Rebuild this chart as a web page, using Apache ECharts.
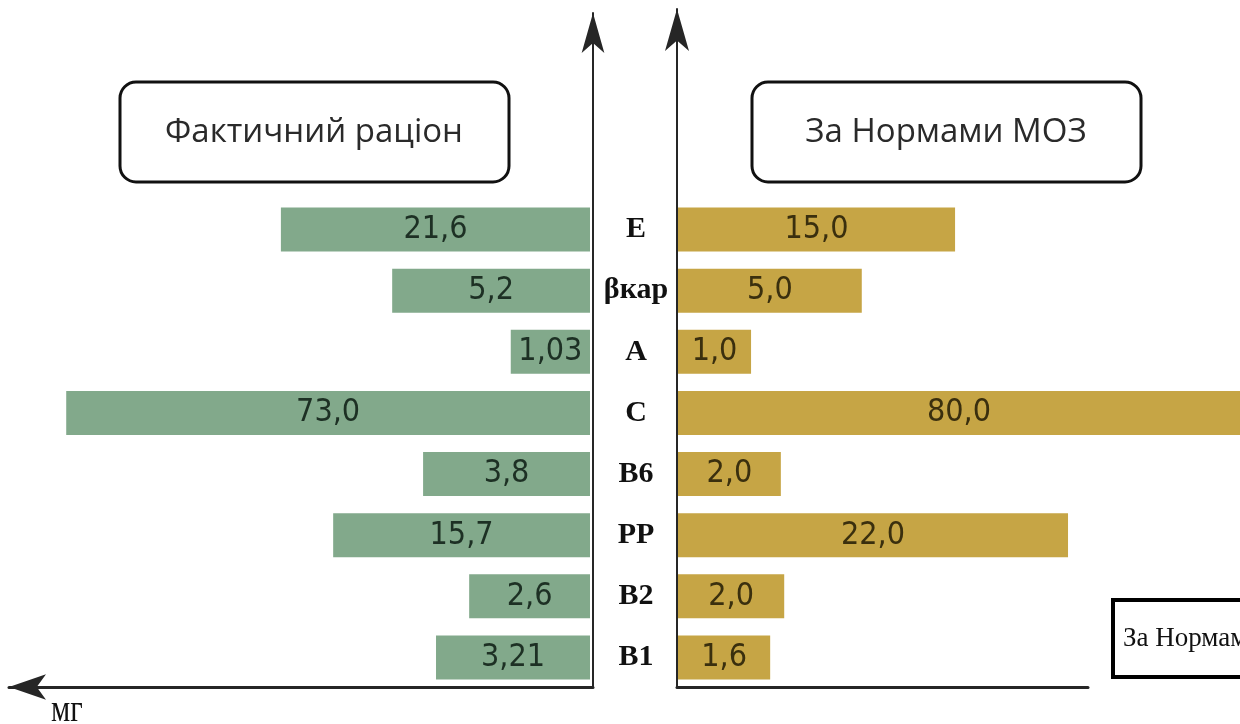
<!DOCTYPE html>
<html>
<head>
<meta charset="utf-8">
<script src="https://cdn.jsdelivr.net/npm/echarts@6/dist/echarts.min.js"></script>
<style>
html,body{margin:0;padding:0;background:#fff;}
#chart{width:1240px;height:724px;}
</style>
</head>
<body>
<div id="chart"></div>
<script>
// ---------------- data ----------------
const vitamins = ['E', 'βкар', 'A', 'C', 'B6', 'PP', 'B2', 'B1'];
const factValues = [21.6, 5.2, 1.03, 73.0, 3.8, 15.7, 2.6, 3.21];   // Фактичний раціон, мг
const normValues = [15.0, 5.0, 1.0, 80.0, 2.0, 22.0, 2.0, 1.6];     // За Нормами МОЗ, мг
// bar extents as drawn in the source figure (its bars are not to scale), relative units 0–100
const factBarExtent = [55.0, 35.2, 14.1, 93.2, 29.7, 45.7, 21.5, 27.4];
const normBarExtent = [49.3, 32.7, 13.0, 100.0, 18.3, 69.4, 18.9, 16.4];
const seriesNames = ['Фактичний раціон', 'За Нормами МОЗ'];
const unitLabel = 'мг';

// ---------------- helpers ----------------
function fmt(v) {
  const d = Math.abs(Math.round(v * 10) - v * 10) < 1e-9 ? 1 : 2;
  return v.toFixed(d).replace('.', ',');
}
function measure(font) {
  const c = document.createElement('canvas').getContext('2d');
  c.font = font;
  return c.measureText('21,6 Фактичний').width;
}
function hasFont(name) {
  return measure("40px monospace") !== measure("40px '" + name + "', monospace");
}
let labelFamily = 'Open Sans';
for (const f of ['Liberation Sans Narrow', 'Noto Sans Condensed', 'DejaVu Sans Condensed']) {
  if (hasFont(f)) { labelFamily = f; break; }
}
const mc = document.createElement('canvas').getContext('2d');
mc.font = "40px '" + labelFamily + "'";
let labelSize = Math.round(40 * 65 / mc.measureText('21,6').width);
labelSize = Math.max(26, Math.min(38, labelSize));

const chart = echarts.init(document.getElementById('chart'), null, { renderer: 'canvas' });

const lineColor = '#262626';
const hiddenValueAxis = (grid, extra) => Object.assign({
  gridIndex: grid, type: 'value', min: 0, max: 100,
  axisLine: { show: false }, axisTick: { show: false },
  axisLabel: { show: false }, splitLine: { show: false }
}, extra || {});
const decoAxis = (grid, extra) => Object.assign({
  gridIndex: grid, type: 'value', min: 0, max: 1, z: 5,
  axisTick: { show: false }, axisLabel: { show: false }, splitLine: { show: false }
}, extra || {});

const option = {
  backgroundColor: '#ffffff',
  animation: false,
  grid: [
    { left: 28, width: 562, top: 199, height: 489 },   // left bars
    { left: 678, width: 562, top: 199, height: 489 },  // right bars
    { left: 9, width: 584, top: 13, height: 674 },     // left axes (lines)
    { left: 677, width: 411, top: 9, height: 678 }     // right axes (lines)
  ],
  xAxis: [
    hiddenValueAxis(0, { inverse: true }),
    hiddenValueAxis(1),
    decoAxis(2, {
      inverse: true,
      axisLine: { show: true, onZero: false, symbol: ['arrow', 'none'], symbolSize: [19, 37],
        lineStyle: { color: lineColor, width: 3 } }
    }),
    decoAxis(3, {
      axisLine: { show: true, onZero: false, lineStyle: { color: lineColor, width: 3 } }
    })
  ],
  yAxis: [
    {
      gridIndex: 0, type: 'category', data: vitamins, inverse: true, position: 'right',
      axisLine: { show: false }, axisTick: { show: false },
      axisLabel: {
        show: true, margin: 46, align: 'center',
        fontFamily: "'Liberation Serif', 'DejaVu Serif', serif", fontWeight: 'bold',
        fontSize: 30, color: '#111'
      }
    },
    {
      gridIndex: 1, type: 'category', data: vitamins, inverse: true,
      axisLine: { show: false }, axisTick: { show: false }, axisLabel: { show: false }
    },
    decoAxis(2, {
      position: 'right',
      axisLine: { show: true, onZero: false, symbol: ['none', 'arrow'], symbolSize: [17, 40],
        lineStyle: { color: lineColor, width: 2 } }
    }),
    decoAxis(3, {
      position: 'left',
      axisLine: { show: true, onZero: false, symbol: ['none', 'arrow'], symbolSize: [18, 42],
        lineStyle: { color: lineColor, width: 2 } }
    })
  ],
  series: [
    {
      name: seriesNames[0], type: 'bar', xAxisIndex: 0, yAxisIndex: 0,
      data: factBarExtent, barWidth: 44,
      itemStyle: { color: '#82a98b' },
      label: {
        show: true, position: 'inside',
        formatter: p => fmt(factValues[p.dataIndex]),
        fontFamily: labelFamily, fontSize: labelSize, color: '#1d3024'
      }
    },
    {
      name: seriesNames[1], type: 'bar', xAxisIndex: 1, yAxisIndex: 1,
      data: normBarExtent, barWidth: 44,
      itemStyle: { color: '#c6a545' },
      label: {
        show: true, position: 'inside',
        formatter: p => fmt(normValues[p.dataIndex]),
        fontFamily: labelFamily, fontSize: labelSize, color: '#3a2f0e'
      }
    }
  ],
  graphic: [
    {
      type: 'rect', shape: { x: 120, y: 82, width: 389, height: 100, r: 16 },
      style: { fill: '#fff', stroke: '#111', lineWidth: 3 }
    },
    {
      type: 'text', x: 314, y: 133,
      style: { text: seriesNames[0], fontFamily: "'Open Sans'", fontSize: 33, fill: '#2a2a2a',
        align: 'center', verticalAlign: 'middle' }
    },
    {
      type: 'rect', shape: { x: 752, y: 82, width: 389, height: 100, r: 16 },
      style: { fill: '#fff', stroke: '#111', lineWidth: 3 }
    },
    {
      type: 'text', x: 946, y: 133,
      style: { text: seriesNames[1], fontFamily: "'Open Sans'", fontSize: 33, fill: '#2a2a2a',
        align: 'center', verticalAlign: 'middle' }
    },
    {
      type: 'rect', shape: { x: 1113, y: 600, width: 220, height: 77 },
      style: { fill: '#fff', stroke: '#000', lineWidth: 4 }
    },
    {
      type: 'text', x: 1123, y: 639,
      style: { text: seriesNames[1], fontFamily: "'Liberation Serif', serif", fontSize: 27, fill: '#111',
        align: 'left', verticalAlign: 'middle' }
    },
    {
      type: 'text', x: 51, y: 692, scaleX: 0.8,
      style: { text: unitLabel, fontFamily: "'Liberation Serif', serif", fontSize: 38, fill: '#111',
        align: 'left', verticalAlign: 'top' }
    }
  ]
};
chart.setOption(option);
</script>
</body>
</html>
